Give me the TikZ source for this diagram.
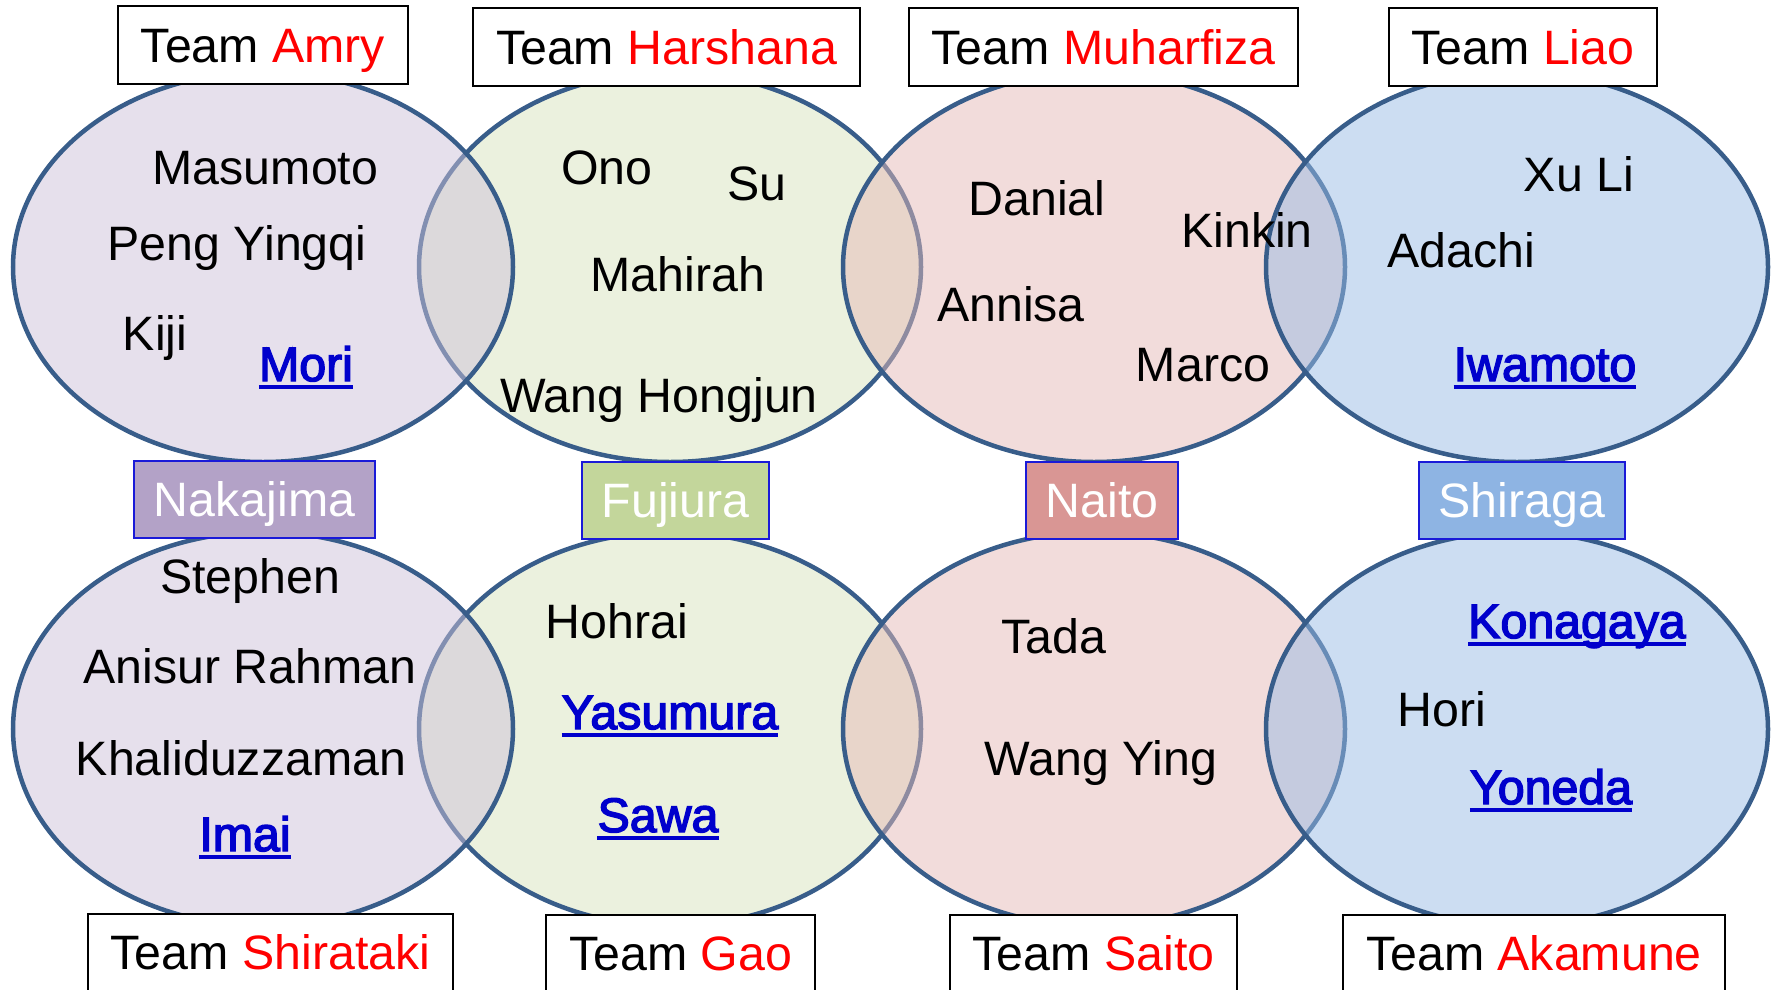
\documentclass[tikz,border=0pt]{standalone}
\usepackage{fontspec}
\setmainfont{Liberation Sans}
\newfontfamily\linkfont[FakeBold=3]{Liberation Sans}
\usetikzlibrary{calc}
\definecolor{edgeblue}{HTML}{385D8A}
\definecolor{purpleF}{HTML}{CDC1D9}
\definecolor{greenF}{HTML}{D7E3BD}
\definecolor{pinkF}{HTML}{E5B9B7}
\definecolor{blueF}{HTML}{99BBE5}
\definecolor{nakF}{HTML}{B3A2C7}
\definecolor{fujF}{HTML}{C3D69B}
\definecolor{naiF}{HTML}{D99694}
\definecolor{shiF}{HTML}{8EB4E3}
\definecolor{teamred}{HTML}{FF0000}
\definecolor{linkblue}{HTML}{0000CC}
\definecolor{boxblue}{HTML}{1A1AD8}
\newcommand\nameat[3]{\node[nm] (#1) at (#2) {#3};}
\newcommand\linkat[3]{\node[lk] (#1) at (#2) {#3};
  \draw[ul] ([yshift=-6pt]#1.base west) -- ([yshift=-6pt]#1.base east);}
\begin{document}
\begin{tikzpicture}[x=1pt,y=-1pt,
  every node/.style={font=\fontsize{48.3}{58}\selectfont},
  venn/.style={draw=edgeblue,line width=4.5pt,fill opacity=0.5},
  nm/.style={anchor=base,inner sep=0pt,text=black},
  lk/.style={anchor=base,inner sep=0pt,text=linkblue,font=\fontsize{48.3}{58}\selectfont\linkfont},
  ul/.style={draw=linkblue,line width=3.2pt},
  tbox/.style={draw=black,line width=2pt,fill=white,inner sep=0pt,text height=34.5pt,text depth=0pt,minimum height=78pt},
  mbox/.style={draw=boxblue,line width=2pt,inner sep=0pt,text height=34.5pt,text depth=0pt,minimum height=77pt,text=white}]
\useasboundingbox (0,0) rectangle (1777,990);
\clip (0,0) rectangle (1777,990);
% top row ellipses (green under its neighbours)
\path[venn,fill=greenF]  (670,267) ellipse [x radius=251,y radius=195];
\path[venn,fill=purpleF] (263,267) ellipse [x radius=250,y radius=195];
\path[venn,fill=pinkF]   (1094,267) ellipse [x radius=251,y radius=195];
\path[venn,fill=blueF]   (1517,267) ellipse [x radius=251,y radius=195];
% bottom row ellipses
\path[venn,fill=greenF]  (670,729) ellipse [x radius=251,y radius=197];
\path[venn,fill=purpleF] (263,729) ellipse [x radius=250,y radius=197];
\path[venn,fill=pinkF]   (1094,729) ellipse [x radius=251,y radius=197];
\path[venn,fill=blueF]   (1517,729) ellipse [x radius=251,y radius=197];
% names, top row
\nameat{masumoto}{265.5,184}{Masumoto}
\nameat{peng}{237,260}{Peng Yingqi}
\nameat{kiji}{155,350}{Kiji}
\linkat{mori}{306,381}{Mori}
\nameat{ono}{607,184}{Ono}
\nameat{su}{757,200}{Su}
\nameat{mahirah}{678,291}{Mahirah}
\nameat{wanghj}{659,412}{Wang Hongjun}
\nameat{danial}{1037,215}{Danial}
\nameat{kinkin}{1247,247}{Kinkin}
\nameat{annisa}{1011,321}{Annisa}
\nameat{marco}{1203,381}{Marco}
\nameat{xuli}{1579,191}{Xu Li}
\nameat{adachi}{1461,267}{Adachi}
\linkat{iwamoto}{1545,381}{Iwamoto}
% names, bottom row
\nameat{stephen}{250,593}{Stephen}
\nameat{anisur}{250,683}{Anisur Rahman}
\nameat{khalid}{241,775}{Khaliduzzaman}
\linkat{imai}{245,851}{Imai}
\nameat{hohrai}{617,638}{Hohrai}
\linkat{yasumura}{670,729}{Yasumura}
\linkat{sawa}{658,832}{Sawa}
\nameat{tada}{1054,653}{Tada}
\nameat{wangying}{1101,775}{Wang Ying}
\linkat{konagaya}{1577,638}{Konagaya}
\nameat{hori}{1442,726}{Hori}
\linkat{yoneda}{1551,804}{Yoneda}
% team boxes top
\node[tbox,minimum width=290pt] (tAmry) at (263,45) {Team \textcolor{teamred}{Amry}};
\node[tbox,minimum width=387pt] (tHarshana) at (666.5,47) {Team \textcolor{teamred}{Harshana}};
\node[tbox,minimum width=389pt] (tMuharfiza) at (1103.5,47) {Team \textcolor{teamred}{Muharfiza}};
\node[tbox,minimum width=268pt] (tLiao) at (1523,47) {Team \textcolor{teamred}{Liao}};
% middle boxes
\node[mbox,fill=nakF,minimum width=241pt] (bNakajima) at (254.5,499) {Nakajima};
\node[mbox,fill=fujF,minimum width=187pt] (bFujiura) at (675.5,500.5) {Fujiura};
\node[mbox,fill=naiF,minimum width=152pt] (bNaito) at (1102,500.5) {Naito};
\node[mbox,fill=shiF,minimum width=206pt] (bShiraga) at (1522,500.5) {Shiraga};
% team boxes bottom
\node[tbox,minimum width=365pt,minimum height=77pt] (tShirataki) at (270.5,952) {Team \textcolor{teamred}{Shirataki}};
\node[tbox,minimum width=269pt,minimum height=77pt] (tGao) at (680.5,953) {Team \textcolor{teamred}{Gao}};
\node[tbox,minimum width=287pt,minimum height=77pt] (tSaito) at (1093.5,953) {Team \textcolor{teamred}{Saito}};
\node[tbox,minimum width=382pt,minimum height=77pt] (tAkamune) at (1534,953) {Team \textcolor{teamred}{Akamune}};
\end{tikzpicture}
\end{document}
